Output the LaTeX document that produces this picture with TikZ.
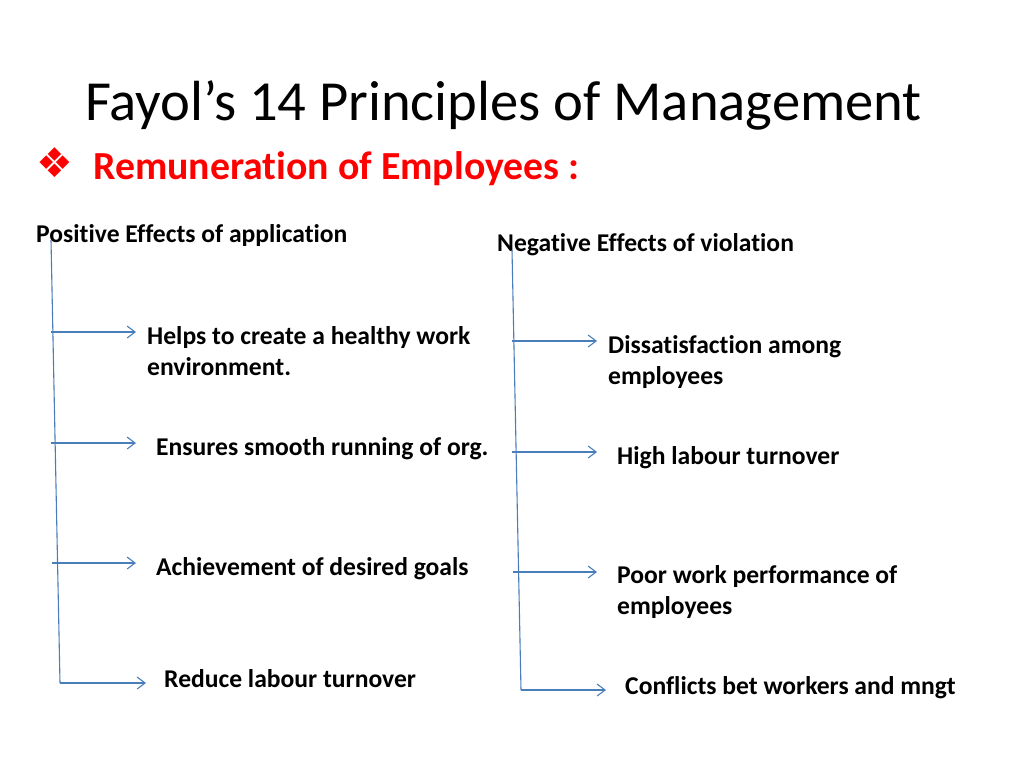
\documentclass[tikz,border=0pt]{standalone}
\usepackage{fontspec}
\setmainfont[Ligatures=NoCommon]{Carlito}
\newfontfamily\symfont{DejaVu Sans}
\usetikzlibrary{arrows.meta}
\definecolor{lineblue}{HTML}{4A7EBB}
\definecolor{subred}{HTML}{FF0000}
\tikzset{
  body/.style={anchor=base west, inner sep=0pt, font=\fontsize{25.6}{30.5}\selectfont\bfseries, align=left},
  conn/.style={draw=lineblue, line width=1.1pt},
  arr/.style={conn, -{Straight Barb[length=8pt,width=12pt,line width=1.1pt]}}
}
\begin{document}
\begin{tikzpicture}[x=1pt,y=-1pt]
\useasboundingbox[fill=white] (0,0) rectangle (1024,768);
% title
\node[anchor=base west, inner sep=0pt, font=\fontsize{56.6}{60}\selectfont] (title) at (85,120) {Fayol’s 14 Principles of Management};
\node[anchor=base west, inner sep=0pt, text=subred, font=\fontsize{41}{43}\symfont] (bullet) at (36,177) {❖};
\node[anchor=base west, inner sep=0pt, text=subred, font=\fontsize{39.8}{42}\selectfont\bfseries] (sub) at (93,179) {Remuneration of Employees :};
% headings
\node[body] (pos) at (36,242) {Positive Effects of application};
\node[body] (neg) at (497,251) {Negative Effects of violation};
% left items
\node[body] (l1) at (147,375) {Helps to create a healthy work\\environment.};
\node[body] (l2) at (156,455) {Ensures smooth running of org.};
\node[body] (l3) at (156,575) {Achievement of desired goals};
\node[body] (l4) at (164,687) {Reduce labour turnover};
% right items
\node[body] (r1) at (608,384) {Dissatisfaction among\\employees};
\node[body] (r2) at (617,464) {High labour turnover};
\node[body] (r3) at (617,614) {Poor work performance of\\employees};
\node[body] (r4) at (625,694) {Conflicts bet workers and mngt};
% left tree
\coordinate (lt) at (51,240);
\coordinate (lb) at (60,683);
\coordinate (la1) at (51,332); \coordinate (le1) at (136,332);
\coordinate (la2) at (51,443); \coordinate (le2) at (136,443);
\coordinate (la3) at (52,563); \coordinate (le3) at (136,563);
\coordinate (le4) at (146,683);
\draw[conn] (lt) -- (lb);
\draw[arr] (la1) -- (le1);
\draw[arr] (la2) -- (le2);
\draw[arr] (la3) -- (le3);
\draw[arr] (lb) -- (le4);
% right tree
\coordinate (rt) at (512,250);
\coordinate (rb) at (521,690);
\coordinate (ra1) at (512,341); \coordinate (re1) at (597,341);
\coordinate (ra2) at (512,452); \coordinate (re2) at (597,452);
\coordinate (ra3) at (513,572); \coordinate (re3) at (597,572);
\coordinate (re4) at (606,690);
\draw[conn] (rt) -- (rb);
\draw[arr] (ra1) -- (re1);
\draw[arr] (ra2) -- (re2);
\draw[arr] (ra3) -- (re3);
\draw[arr] (rb) -- (re4);
\end{tikzpicture}
\end{document}
